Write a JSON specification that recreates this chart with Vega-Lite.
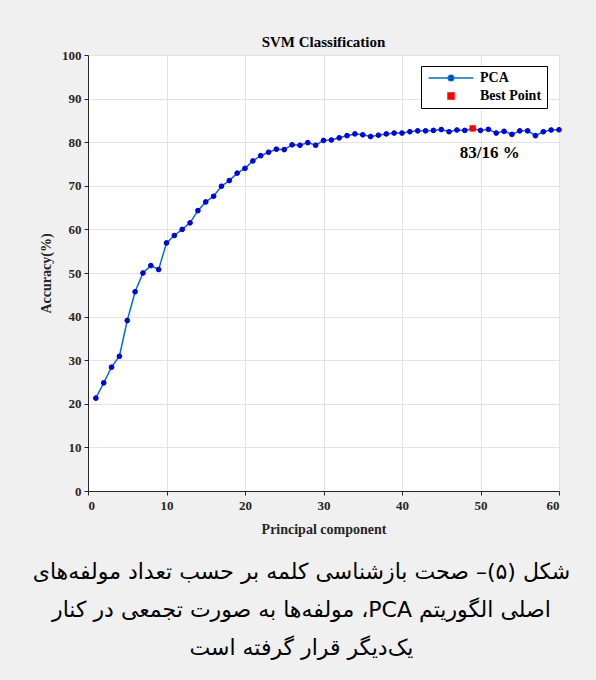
{
  "$schema": "https://vega.github.io/schema/vega-lite/v6.json",
  "background": "#f0f0f0",
  "padding": {"left": 32, "top": 34, "right": 35, "bottom": 40},
  "datasets": {
    "pca": [
      {"pc": 1, "acc": 21.3}, {"pc": 2, "acc": 24.8}, {"pc": 3, "acc": 28.4}, {"pc": 4, "acc": 30.9},
      {"pc": 5, "acc": 39.1}, {"pc": 6, "acc": 45.7}, {"pc": 7, "acc": 50.0}, {"pc": 8, "acc": 51.7},
      {"pc": 9, "acc": 50.8}, {"pc": 10, "acc": 56.9}, {"pc": 11, "acc": 58.6}, {"pc": 12, "acc": 60.0},
      {"pc": 13, "acc": 61.5}, {"pc": 14, "acc": 64.3}, {"pc": 15, "acc": 66.3}, {"pc": 16, "acc": 67.6},
      {"pc": 17, "acc": 69.9}, {"pc": 18, "acc": 71.2}, {"pc": 19, "acc": 72.9}, {"pc": 20, "acc": 74.0},
      {"pc": 21, "acc": 75.7}, {"pc": 22, "acc": 76.9}, {"pc": 23, "acc": 77.7}, {"pc": 24, "acc": 78.4},
      {"pc": 25, "acc": 78.3}, {"pc": 26, "acc": 79.4}, {"pc": 27, "acc": 79.3}, {"pc": 28, "acc": 79.9},
      {"pc": 29, "acc": 79.3}, {"pc": 30, "acc": 80.4}, {"pc": 31, "acc": 80.5}, {"pc": 32, "acc": 81.0},
      {"pc": 33, "acc": 81.5}, {"pc": 34, "acc": 81.9}, {"pc": 35, "acc": 81.7}, {"pc": 36, "acc": 81.3},
      {"pc": 37, "acc": 81.6}, {"pc": 38, "acc": 81.9}, {"pc": 39, "acc": 82.1}, {"pc": 40, "acc": 82.1},
      {"pc": 41, "acc": 82.4}, {"pc": 42, "acc": 82.6}, {"pc": 43, "acc": 82.6}, {"pc": 44, "acc": 82.7},
      {"pc": 45, "acc": 82.9}, {"pc": 46, "acc": 82.4}, {"pc": 47, "acc": 82.8}, {"pc": 48, "acc": 82.7},
      {"pc": 49, "acc": 83.16}, {"pc": 50, "acc": 82.7}, {"pc": 51, "acc": 82.95}, {"pc": 52, "acc": 82.1},
      {"pc": 53, "acc": 82.5}, {"pc": 54, "acc": 81.8}, {"pc": 55, "acc": 82.6}, {"pc": 56, "acc": 82.6},
      {"pc": 57, "acc": 81.5}, {"pc": 58, "acc": 82.4}, {"pc": 59, "acc": 82.8}, {"pc": 60, "acc": 82.85}
    ],
    "best": [{"pc": 49, "acc": 83.16, "label": "83/16 %"}],
    "legend": [{"series": "PCA"}, {"series": "Best Point"}]
  },
  "title": {
    "text": [
      "\u202bشکل (۵)– صحت بازشناسی کلمه بر حسب تعداد مولفه\u200cهای\u202c",
      "\u202bاصلی الگوریتم PCA، مولفه\u200cها به صورت تجمعی در کنار\u202c",
      "\u202bیک\u200cدیگر قرار گرفته است\u202c"
    ],
    "orient": "bottom",
    "anchor": "middle",
    "font": "DejaVu Sans",
    "fontSize": 22,
    "fontWeight": "normal",
    "lineHeight": 38,
    "color": "#000000",
    "offset": 25
  },
  "vconcat": [
    {
      "width": 471,
      "height": 436,
      "title": {"text": "SVM Classification", "font": "Liberation Serif", "fontSize": 15, "fontWeight": "bold", "color": "#000000", "offset": -1, "anchor": "middle"},
      "view": {"fill": "white", "stroke": "#d9d9d9"},
      "layer": [
        {
          "data": {"name": "pca"},
          "mark": {"type": "line", "color": "#0072BD", "strokeWidth": 1.5},
          "encoding": {
            "x": {"field": "pc", "type": "quantitative", "scale": {"domain": [0, 60], "nice": false},
                  "axis": {"values": [0, 10, 20, 30, 40, 50, 60], "title": "Principal component"}},
            "y": {"field": "acc", "type": "quantitative", "scale": {"domain": [0, 100], "nice": false},
                  "axis": {"values": [0, 10, 20, 30, 40, 50, 60, 70, 80, 90, 100], "title": "Accuracy(%)"}}
          }
        },
        {
          "data": {"name": "pca"},
          "mark": {"type": "point", "filled": true, "shape": "circle", "size": 22, "fill": "#0000ff", "stroke": "#0000b0", "strokeWidth": 1, "opacity": 1},
          "encoding": {
            "x": {"field": "pc", "type": "quantitative"},
            "y": {"field": "acc", "type": "quantitative"}
          }
        },
        {
          "data": {"name": "best"},
          "mark": {"type": "square", "size": 40, "color": "#ff0000", "opacity": 1},
          "encoding": {
            "x": {"field": "pc", "type": "quantitative"},
            "y": {"field": "acc", "type": "quantitative"}
          }
        },
        {
          "data": {"name": "best"},
          "mark": {"type": "text", "dx": 17, "dy": 25, "font": "Liberation Serif", "fontSize": 17, "fontWeight": "bold", "baseline": "middle", "color": "#000000"},
          "encoding": {
            "x": {"field": "pc", "type": "quantitative"},
            "y": {"field": "acc", "type": "quantitative"},
            "text": {"field": "label"}
          }
        },
        {
          "data": {"name": "legend"},
          "transform": [{"filter": "false"}],
          "mark": {"type": "point", "filled": true, "opacity": 1},
          "encoding": {
            "shape": {"field": "series", "type": "nominal",
                      "scale": {"domain": ["PCA", "Best Point"], "range": ["M-4.5,0L4.5,0M-0.55,0A0.55,0.55 0 1,0 0.55,0A0.55,0.55 0 1,0 -0.55,0", "M-0.6,-0.6H0.6V0.6H-0.6Z"]},
                      "legend": {"orient": "none", "legendX": 333, "legendY": 11, "title": null, "direction": "vertical",
                                 "fillColor": "white", "strokeColor": "#000000", "padding": 5,
                                 "labelFont": "Liberation Serif", "labelFontSize": 14, "labelFontWeight": "bold", "labelColor": "#000000",
                                 "symbolSize": 100, "symbolStrokeWidth": 1.5, "symbolOpacity": 1, "symbolOffset": 18, "labelOffset": 22, "rowPadding": 4}},
            "fill": {"field": "series", "type": "nominal", "scale": {"domain": ["PCA", "Best Point"], "range": ["#0000ff", "#ff0000"]}},
            "stroke": {"field": "series", "type": "nominal", "scale": {"domain": ["PCA", "Best Point"], "range": ["#0072BD", "#ff0000"]}}
          }
        }
      ]
    }
  ],
  "config": {
    "axis": {
      "labelFont": "Liberation Serif", "labelFontSize": 13, "labelFontWeight": "bold", "labelColor": "#262626",
      "titleFont": "Liberation Serif", "titleFontSize": 14, "titleFontWeight": "bold", "titleColor": "#262626",
      "domainColor": "#262626", "tickColor": "#262626", "tickSize": 4,
      "gridColor": "#e3e3e3", "gridOpacity": 1
    },
    "axisY": {"labelPadding": 3, "titlePadding": 8},
    "axisX": {"labelPadding": 4, "titlePadding": 10},
    "legend": {"strokeWidth": 1}
  }
}
